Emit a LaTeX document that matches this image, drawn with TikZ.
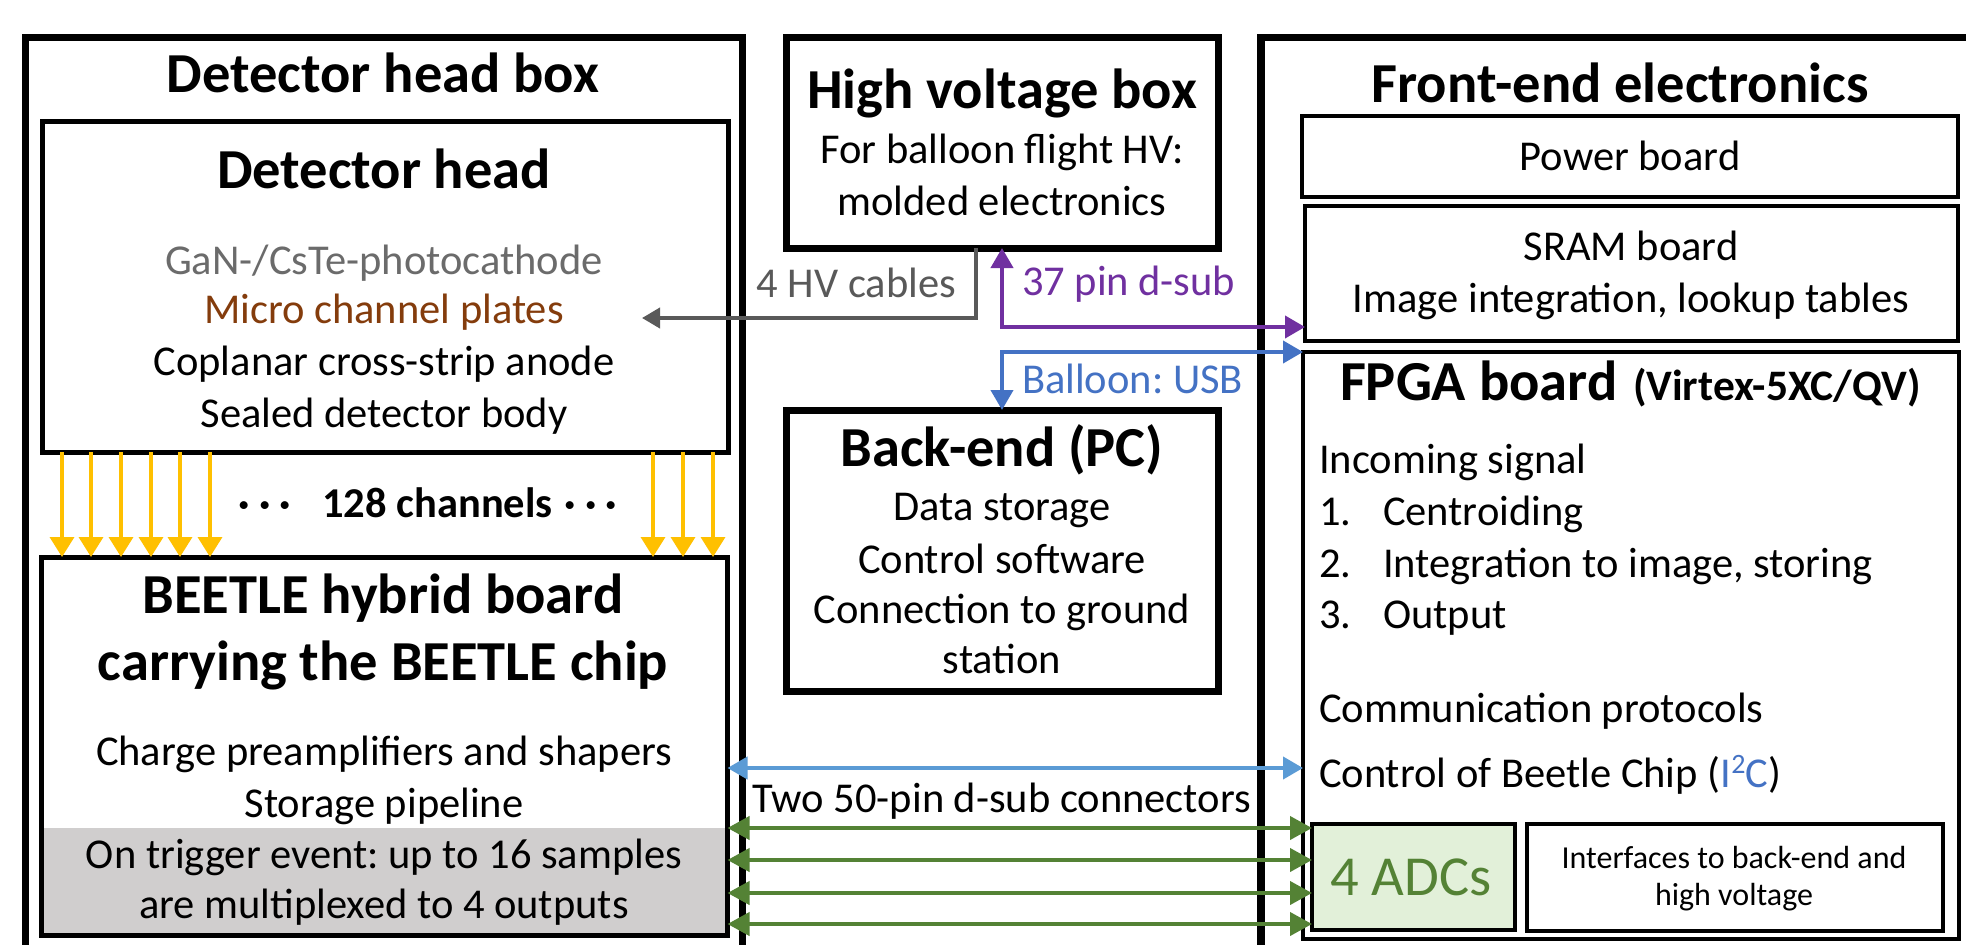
\documentclass[tikz,border=0pt]{standalone}
\usepackage{fontspec}
\setmainfont{Carlito}
\usetikzlibrary{arrows.meta,calc}
\frenchspacing
\definecolor{yel}{HTML}{FFC000}
\definecolor{purp}{HTML}{7030A0}
\definecolor{bluec}{HTML}{4472C4}
\definecolor{lbluec}{HTML}{5B9BD5}
\definecolor{greenc}{HTML}{548235}
\definecolor{linegray}{HTML}{595959}
\definecolor{gtxt}{HTML}{6B6B6B}
\definecolor{brownc}{HTML}{843C0C}
\definecolor{greyfill}{HTML}{D0CECE}
\definecolor{adcfill}{HTML}{E2F0D9}
\newcommand\myfs[2]{\fontsize{#1}{#2}\selectfont}
\begin{document}
\begin{tikzpicture}[x=1pt,y=-1pt,
  >={Triangle[length=20pt,width=22pt]},
  box/.style={draw, inner sep=0pt, outer sep=0pt, anchor=north west},
  t/.style={inner sep=0pt, outer sep=0pt, anchor=base, font=\myfs{42.5}{51}},
  tt/.style={t, font=\bfseries\myfs{56.5}{68}},
  tb/.style={t, font=\bfseries\myfs{42.5}{51}},
  conn/.style={line width=4pt},
  ylw/.style={draw=yel, line width=3.5pt, -{Triangle[length=20pt,width=24pt]}}]
\useasboundingbox (0,0) rectangle (1966,945);
\clip (0,0) rectangle (1966,945);
\fill[white] (0,0) rectangle (1966,945);

% ---------- boxes ----------
\node[box, line width=7.5pt, minimum width=717pt, minimum height=960pt] (ohead) at (25.5,37.5) {};
\node[box, line width=5pt, minimum width=686pt, minimum height=330.5pt] (dh) at (42,121.5) {};
\node[box, draw=none, fill=greyfill, minimum width=682pt, minimum height=106pt] (trig) at (43,828) {};
\node[box, line width=5pt, minimum width=686.5pt, minimum height=378pt] (beetle) at (41,557) {};
\node[box, line width=7pt, minimum width=432pt, minimum height=210.5pt] (hv) at (786,37.5) {};
\node[box, line width=7pt, minimum width=432pt, minimum height=281pt] (be) at (786,410) {};
\node[box, line width=7.5pt, minimum width=760pt, minimum height=960pt] (ofe) at (1261,37.5) {};
\node[box, line width=3.5pt, minimum width=656pt, minimum height=81pt] (pw) at (1302,116) {};
\node[box, line width=3.5pt, minimum width=653pt, minimum height=135pt] (sram) at (1305,206) {};
\node[box, line width=3.5pt, minimum width=656pt, minimum height=587pt] (fpga) at (1303,352) {};
\node[box, line width=4.5pt, fill=adcfill, minimum width=203pt, minimum height=106pt] (adc) at (1312,824) {};
\node[box, line width=4.5pt, minimum width=416pt, minimum height=107pt] (intf) at (1527,824) {};

% ---------- coordinates ----------
\coordinate (mcp) at (642,318);
\coordinate (yp) at (0,327);
\coordinate (cb) at (0,768);

% ---------- connectors ----------
\draw[conn, draw=linegray, -{Triangle[length=18pt,width=20pt]}] ($(hv.south west)+(190,0)$) |- (mcp);
\draw[conn, draw=purp, <->] (hv.south) |- (sram.west |- yp);
\draw[conn, draw=bluec, <->] (be.north) |- (fpga.north west);
\draw[conn, draw=lbluec, <->] (beetle.east |- cb) -- (fpga.west |- cb);
\foreach \yy [count=\i] in {828,860,893,924}{
  \coordinate (g\i) at (0,\yy);
  \draw[conn, draw=greenc, {Triangle[length=22pt,width=23pt]}-{Triangle[length=22pt,width=23pt]}] (beetle.east |- g\i) -- (adc.west |- g\i);
}
\foreach \xx [count=\i] in {62,91,121,151,180,210,653,683,713}{
  \coordinate (y\i) at (\xx,0);
  \draw[ylw] (dh.south -| y\i) -- (beetle.north -| y\i);
}

% ---------- left texts ----------
\node[tt] (t1) at (383,92) {Detector head box};
\node[tt] (t2) at (384,188) {Detector head};
\node[t, text=gtxt] (t3) at (384,274) {GaN-/CsTe-photocathode};
\node[t, text=brownc] (t4) at (384,323) {Micro channel plates};
\node[t] (t5) at (384,375) {Coplanar cross-strip anode};
\node[t] (t6) at (384,427) {Sealed detector body};
\node[tb] (dl) at (265,517) {·\hspace{9pt}·\hspace{9pt}·};
\node[tb] (ch) at (437.5,517) {128 channels};
\node[tb] (dr) at (591,517) {·\hspace{9pt}·\hspace{9pt}·};
\node[tt] (b1) at (383,613) {BEETLE hybrid board};
\node[tt] (b2) at (383,680) {carrying the BEETLE chip};
\node[t] (b3) at (384,765) {Charge preamplifiers and shapers};
\node[t] (b4) at (384,817) {Storage pipeline};
\node[t] (b5) at (384,868) {On trigger event: up to 16 samples};
\node[t] (b6) at (384,918) {are multiplexed to 4 outputs};

% ---------- middle texts ----------
\node[tt] (h1) at (1002,108) {High voltage box};
\node[t] (h2) at (1002,163) {For balloon flight HV:};
\node[t] (h3) at (1002,215) {molded electronics};
\node[t, anchor=base east, text=linegray] (hvl) at (956,297) {4 HV cables};
\node[t, anchor=base west, text=purp] (pl) at (1022,295) {37 pin d-sub};
\node[t, anchor=base west, text=bluec] (ul) at (1022,393) {Balloon: USB};
\node[tt] (e1) at (1002,466) {Back-end (PC)};
\node[t] (e2) at (1002,520) {Data storage};
\node[t] (e3) at (1002,573) {Control software};
\node[t] (e4) at (1002,623) {Connection to ground};
\node[t] (e5) at (1002,673) {station};
\node[t] (twl) at (1002,812) {Two 50-pin d-sub connectors};

% ---------- right texts ----------
\node[tt] (f1) at (1620,102) {Front-end electronics};
\node[t] (f2) at (1630,170) {Power board};
\node[t] (f3) at (1631,260) {SRAM board};
\node[t] (f4) at (1631,312) {Image integration, lookup tables};
\node[tt, anchor=base west] (f5) at (1340,400) {FPGA board};
\node[t, font=\bfseries\myfs{43.5}{52}, anchor=base west] (f6) at (1633,400) {(Virtex-5XC/QV)};
\node[t, anchor=base west] (f7) at (1319,473) {Incoming signal};
\node[t, anchor=base west] (n1) at (1319,525) {1.};
\node[t, anchor=base west] (l1) at (1383,525) {Centroiding};
\node[t, anchor=base west] (n2) at (1319,577) {2.};
\node[t, anchor=base west] (l2) at (1383,577) {Integration to image, storing};
\node[t, anchor=base west] (n3) at (1319,628) {3.};
\node[t, anchor=base west] (l3) at (1383,628) {Output};
\node[t, anchor=base west] (f8) at (1319,722) {Communication protocols};
\node[t, anchor=base west] (f9) at (1319,787) {Control of Beetle Chip (\textcolor{bluec}{I\raisebox{14pt}{\myfs{28}{30}2}C})};
\node[t, text=greenc, font=\myfs{56.5}{68}] (adct) at (1411,895) {4 ADCs};
\node[t, font=\myfs{32}{37}] (i1) at (1734,868) {Interfaces to back-end and};
\node[t, font=\myfs{32}{37}] (i2) at (1734,905) {high voltage};
\end{tikzpicture}
\end{document}
